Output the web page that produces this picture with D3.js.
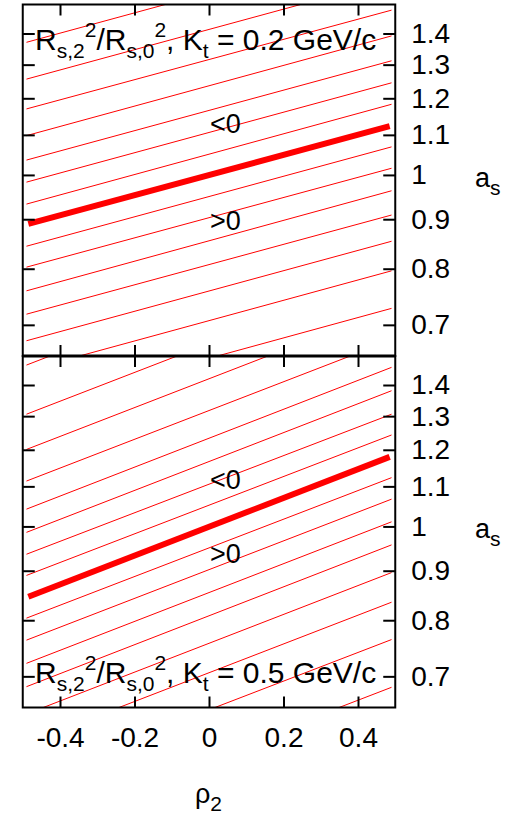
<!DOCTYPE html>
<html>
<head>
<meta charset="utf-8">
<script src="https://cdn.jsdelivr.net/npm/d3@7"></script>
<style>
  body { margin: 0; background: #fff; }
  text { font-family: "Liberation Sans", Arial, Helvetica, sans-serif; white-space: pre; }
</style>
</head>
<body>
<div id="chart"></div>
<script>
// Data: contour lines given by a_s at the two rho ends
var rhoEnds = [-0.49, 0.49];
var zeroEnds = [-0.485, 0.485];

// Kt = 0.2 GeV/c panel
var topLines = [
  [1.371, 1.737], [1.256, 1.591], [1.170, 1.480], [1.098, 1.392],
  [1.036, 1.312], [0.983, 1.245], [0.933, 1.183], [0.844, 1.069],
  [0.803, 1.016], [0.759, 0.963], [0.718, 0.909], [0.674, 0.854],
  [0.628, 0.796], [0.574, 0.728]
];
var topZero = [0.890, 1.123];

// Kt = 0.5 GeV/c panel
var botLines = [
  [1.468, 2.053], [1.306, 1.827], [1.201, 1.681], [1.114, 1.558],
  [1.042, 1.460], [0.986, 1.381], [0.936, 1.306], [0.890, 1.243],
  [0.804, 1.123], [0.763, 1.067], [0.722, 1.011], [0.683, 0.957],
  [0.640, 0.896], [0.597, 0.835], [0.547, 0.764], [0.488, 0.682]
];
var botZero = [0.846, 1.180];

var xTicks = [-0.4, -0.2, 0, 0.2, 0.4];
var yTicks = [0.7, 0.8, 0.9, 1, 1.1, 1.2, 1.3, 1.4];
var xDomain = [-0.5, 0.5];
var yDomain = [0.65, 1.5];

// Set up SVG
var svgWidth = 515;
var svgHeight = 823;
var left = 22.75, right = 395.25;
var top1 = 4.5, mid = 356, bottom = 707.5;

var svg = d3.select("#chart")
  .append("svg")
  .attr("width", svgWidth)
  .attr("height", svgHeight);

var x = d3.scaleLinear().domain(xDomain).range([left, right]);

// plain hyphen for negatives, like the original
var fmt = d => String(d);

function drawPanel(id, y0, y1, lines, zero, title, titleY, labels) {
  var y = d3.scaleLog().domain(yDomain).range([y1, y0]);

  svg.append("clipPath").attr("id", id)
    .append("rect")
    .attr("x", left).attr("y", y0)
    .attr("width", right - left).attr("height", y1 - y0);

  var g = svg.append("g").attr("clip-path", "url(#" + id + ")");
  var line = d3.line().x(d => x(d[0])).y(d => y(d[1]));

  g.selectAll("path.thin")
    .data(lines)
    .enter().append("path")
    .attr("class", "thin")
    .attr("d", d => line([[rhoEnds[0], d[0]], [rhoEnds[1], d[1]]]))
    .attr("fill", "none")
    .attr("stroke", "#ff0000")
    .attr("stroke-width", 1);

  g.append("path")
    .attr("d", line([[zeroEnds[0], zero[0]], [zeroEnds[1], zero[1]]]))
    .attr("fill", "none")
    .attr("stroke", "#ff0000")
    .attr("stroke-width", 6);

  // frame
  svg.append("rect")
    .attr("x", left).attr("y", y0)
    .attr("width", right - left).attr("height", y1 - y0)
    .attr("fill", "none").attr("stroke", "#000").attr("stroke-width", 2);

  // axes, ticks pointing inward
  var axes = [
    d3.axisLeft(y).tickValues(yTicks).tickSize(-12).tickFormat(""),
    d3.axisRight(y).tickValues(yTicks).tickSize(-12).tickPadding(16).tickFormat(fmt),
    d3.axisTop(x).tickValues(xTicks).tickSize(-11).tickFormat(""),
    d3.axisBottom(x).tickValues(xTicks).tickSize(-11).tickPadding(20)
      .tickFormat(labels ? fmt : "")
  ];
  var pos = [
    `translate(${left},0)`, `translate(${right},0)`,
    `translate(0,${y0})`, `translate(0,${y1})`
  ];
  axes.forEach(function(ax, i) {
    var a = svg.append("g").attr("transform", pos[i]).call(ax.tickSizeOuter(0));
    a.select(".domain").remove();
    a.selectAll(".tick line").attr("stroke", "#000").attr("stroke-width", 2);
    a.selectAll("text").attr("font-size", 28).attr("fill", "#000")
      .style("font-family", "'Liberation Sans', Arial, sans-serif");
  });

  // title with sub/superscripts
  var t = svg.append("text").attr("x", 35).attr("y", titleY).attr("font-size", 30);
  title.forEach(function(p) {
    t.append("tspan").attr("dy", p[1]).attr("font-size", p[2]).text(p[0]);
  });

  var cy = y(1);
  svg.append("text").attr("x", 210).attr("y", cy - 42 + (y0 === top1 ? 0 : 5))
    .attr("font-size", 27).text("<0");
  svg.append("text").attr("x", 210).attr("y", cy + 55 + (y0 === top1 ? 0 : -18))
    .attr("font-size", 27).text(">0");

  var as = svg.append("text").attr("x", 475).attr("y", cy + 12).attr("font-size", 27);
  as.append("tspan").text("a");
  as.append("tspan").attr("dy", 8).attr("font-size", 21).text("s");
}

function titleParts(kt) {
  return [
    ["R", 0, 30], ["s,2", 8, 21], ["2", -21.3, 21], ["/R", 13.3, 30],
    ["s,0", 8, 21], ["2", -21.3, 21], [", K", 13.3, 30], ["t", 8, 21],
    [" = " + kt + " GeV/c", -8, 30]
  ];
}

drawPanel("clipTop", top1, mid, topLines, topZero, titleParts("0.2"), 50, false);
drawPanel("clipBot", mid, bottom, botLines, botZero, titleParts("0.5"), 683, true);

svg.append("line")
  .attr("x1", left).attr("x2", right).attr("y1", mid).attr("y2", mid)
  .attr("stroke", "#000").attr("stroke-width", 3);

var xl = svg.append("text").attr("x", 195).attr("y", 803).attr("font-size", 27);
xl.append("tspan").text("ρ");
xl.append("tspan").attr("dy", 8).attr("font-size", 21).text("2");
</script>
</body>
</html>
